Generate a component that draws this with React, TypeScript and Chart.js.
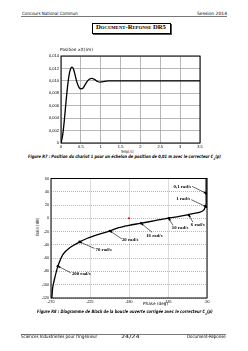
import React, { useEffect, useLayoutEffect, useRef } from "react";
import { Chart, registerables } from "chart.js";
Chart.register(...registerables);

// ---------- Figure R7 : step response ----------
const stepTime = [0, 0.04, 0.08, 0.12, 0.16, 0.2, 0.24, 0.28, 0.32, 0.36, 0.4, 0.45, 0.5, 0.55, 0.6, 0.66, 0.72, 0.78, 0.85, 0.92, 1.0, 1.1, 1.2, 3.5];
const stepPos = [0, 0.0012, 0.0034, 0.0062, 0.0088, 0.0108, 0.0119, 0.0122, 0.0118, 0.0108, 0.0098, 0.009, 0.0087, 0.0088, 0.0093, 0.0099, 0.0103, 0.0104, 0.0102, 0.0099, 0.0098, 0.0099, 0.01, 0.01];
const timeTicks = [0, 0.5, 1, 1.5, 2, 2.5, 3, 3.5];
const posTicks = [0, 0.002, 0.004, 0.006, 0.008, 0.01, 0.012, 0.014];
const timeTickLabels = ["0", "0,5", "1", "1,5", "2", "2,5", "3", "3,5"];
const posTickLabels = ["0", "0,002", "0,004", "0,006", "0,008", "0,010", "0,012", "0,014"];

// ---------- Figure R8 : Black-Nichols ----------
const curvePhase = [-91, -91, -91, -91, -92, -94, -98, -110, -122, -136, -150, -167, -180, -192, -202, -217, -228, -237, -248, -256, -262, -265.5, -268, -269];
const curveGain = [60, 40, 30, 22, 17, 12, 9.5, 6, 3, 0, -3.5, -7.5, -10.5, -14, -19, -25, -30, -35.5, -44, -54, -72, -89, -104, -120];
const freqLabels = ["0,1 rad/s", "1 rad/s", "6 rad/s", "10 rad/s", "16 rad/s", "20 rad/s", "70 rad/s", "200 rad/s"];
const freqPhase = [-91, -91, -111, -134, -166, -202, -237, -262];
const freqGain = [37.6, 17.6, 5, 0, -7.5, -19, -35.5, -72];
const criticalPhase = [-180];
const criticalGain = [0];
const phaseTicks = [-270, -225, -180, -135, -90];
const gainTicks = [60, 40, 20, 0, -20, -40, -60, -80, -100, -120];

// label placement relative to each marked point (pixels)
const freqNotes = [
  { align: "right", tx: -15, ty: -7, ax: -14, ay: -7 },
  { align: "right", tx: -16, ty: -8, ax: -15, ay: -7 },
  { align: "left", tx: 2, ty: 10, ax: 4, ay: 7 },
  { align: "left", tx: 3, ty: 9.5, ax: 4, ay: 7 },
  { align: "left", tx: 5, ty: 12.5, ax: 11, ay: 9 },
  { align: "left", tx: 12, ty: 9, ax: 12, ay: 8 },
  { align: "left", tx: 16, ty: 7.5, ax: 15, ay: 6.5 },
  { align: "left", tx: 14, ty: 7.7, ax: 13, ay: 6.7 },
];

const tickFont = { family: "'Liberation Sans', Arial, sans-serif", size: 4 };

const framePlugin = {
  id: "frame",
  afterDraw(chart: any) {
    const { ctx, chartArea: a } = chart;
    ctx.save();
    ctx.strokeStyle = "#000";
    ctx.lineWidth = 1;
    ctx.strokeRect(a.left, a.top, a.right - a.left, a.bottom - a.top);
    ctx.restore();
  },
};

const notePlugin = {
  id: "notes",
  afterDatasetsDraw(chart: any) {
    const { ctx } = chart;
    const x = chart.scales.x;
    const y = chart.scales.y;
    ctx.save();
    ctx.font = "bold 4.8px 'Liberation Serif', serif";
    ctx.fillStyle = "#000";
    ctx.strokeStyle = "#000";
    ctx.lineWidth = 0.6;
    freqLabels.forEach((lab, i) => {
      const px = x.getPixelForValue(freqPhase[i]);
      const py = y.getPixelForValue(freqGain[i]);
      const n = freqNotes[i];
      ctx.textAlign = n.align;
      ctx.textBaseline = "middle";
      ctx.fillText(lab, px + n.tx, py + n.ty);
      const sx = px + n.ax;
      const sy = py + n.ay;
      ctx.beginPath();
      ctx.moveTo(sx, sy);
      ctx.lineTo(px, py);
      ctx.stroke();
      const ang = Math.atan2(py - sy, px - sx);
      const L = 2.6;
      ctx.beginPath();
      ctx.moveTo(px, py);
      ctx.lineTo(px - L * Math.cos(ang - 0.45), py - L * Math.sin(ang - 0.45));
      ctx.lineTo(px - L * Math.cos(ang + 0.45), py - L * Math.sin(ang + 0.45));
      ctx.closePath();
      ctx.fill();
    });
    ctx.restore();
  },
};

function StepChart() {
  const ref = useRef<HTMLCanvasElement>(null);
  useEffect(() => {
    const chart = new Chart(ref.current!, {
      type: "scatter",
      data: {
        datasets: [
          {
            data: stepTime.map((t, i) => ({ x: t, y: stepPos[i] })),
            showLine: true,
            borderColor: "#000",
            borderWidth: 1.3,
            pointRadius: 0,
            cubicInterpolationMode: "monotone",
          } as any,
        ],
      },
      options: {
        animation: false,
        responsive: false,
        maintainAspectRatio: false,
        layout: { padding: { top: 8, right: 8, left: 0, bottom: 0 } },
        plugins: { legend: { display: false }, tooltip: { enabled: false } },
        scales: {
          x: {
            type: "linear",
            min: 0,
            max: 3.5,
            afterBuildTicks: (ax: any) => { ax.ticks = timeTicks.map((v) => ({ value: v })); },
            afterFit: (ax: any) => { ax.height = 5; },
            ticks: { font: tickFont, color: "#000", padding: 1, autoSkip: false, maxRotation: 0,
              callback: (v: any) => timeTickLabels[timeTicks.indexOf(Number(v))] ?? "" },
            grid: { color: "#9a9a9a", lineWidth: 0.7, drawTicks: false },
            border: { display: false },
          },
          y: {
            type: "linear",
            min: 0,
            max: 0.014,
            afterBuildTicks: (ax: any) => { ax.ticks = posTicks.map((v) => ({ value: v })); },
            afterFit: (ax: any) => { ax.width = 21; },
            ticks: { font: tickFont, color: "#000", padding: 2, autoSkip: false,
              callback: (v: any) => {
                const k = posTicks.findIndex((p) => Math.abs(p - Number(v)) < 1e-9);
                return k >= 0 ? posTickLabels[k] : "";
              } },
            grid: { color: "#9a9a9a", lineWidth: 0.7, drawTicks: false },
            border: { display: false },
          },
        },
      },
      plugins: [framePlugin],
    });
    return () => chart.destroy();
  }, []);
  return <canvas ref={ref} width={168} height={100} style={{ position: "absolute", left: 40, top: 48, width: 168, height: 100 }} />;
}

function BlackChart() {
  const ref = useRef<HTMLCanvasElement>(null);
  useEffect(() => {
    const chart = new Chart(ref.current!, {
      type: "scatter",
      data: {
        datasets: [
          {
            data: curvePhase.map((p, i) => ({ x: p, y: curveGain[i] })),
            showLine: true,
            borderColor: "#000",
            borderWidth: 1.3,
            pointRadius: 0,
            tension: 0.3,
          } as any,
          {
            data: freqPhase.map((p, i) => ({ x: p, y: freqGain[i] })),
            showLine: false,
            pointRadius: 1.3,
            backgroundColor: "#000",
            borderColor: "#000",
            borderWidth: 0,
          },
          {
            data: criticalPhase.map((p, i) => ({ x: p, y: criticalGain[i] })),
            showLine: false,
            pointRadius: 1,
            backgroundColor: "#e00000",
            borderColor: "#e00000",
            borderWidth: 0,
          },
        ],
      },
      options: {
        animation: false,
        responsive: false,
        maintainAspectRatio: false,
        layout: { padding: { top: 8.5, right: 8, left: 0, bottom: 0 } },
        plugins: { legend: { display: false }, tooltip: { enabled: false } },
        scales: {
          x: {
            type: "linear",
            min: -270,
            max: -90,
            afterBuildTicks: (ax: any) => { ax.ticks = phaseTicks.map((v) => ({ value: v })); },
            afterFit: (ax: any) => { ax.height = 9; },
            ticks: { font: { ...tickFont, size: 3.6 }, color: "#000", padding: 1.5, autoSkip: false, maxRotation: 0 },
            grid: { color: "#8a8a8a", lineWidth: 0.6, drawTicks: false },
            border: { display: false, dash: [1, 1] },
          },
          y: {
            type: "linear",
            min: -120,
            max: 60,
            afterBuildTicks: (ax: any) => { ax.ticks = gainTicks.map((v) => ({ value: v })); },
            afterFit: (ax: any) => { ax.width = 21; },
            ticks: { font: { ...tickFont, size: 3.6 }, color: "#000", padding: 2, autoSkip: false },
            grid: { color: "#8a8a8a", lineWidth: 0.6, drawTicks: false },
            border: { display: false, dash: [1, 1] },
          },
        },
      },
      plugins: [framePlugin, notePlugin],
    });
    return () => chart.destroy();
  }, []);
  return <canvas ref={ref} width={185} height={137} style={{ position: "absolute", left: 30, top: 170, width: 185, height: 137 }} />;
}

const sans = "'Liberation Sans Narrow', 'Arial Narrow', 'DejaVu Sans Condensed', sans-serif";

// text fitted to a given width (x = left edge, or right edge when right is set)
function T(props: { x: number; y: number; w: number; size: number; children: any; right?: boolean; style?: any }) {
  const ref = useRef<HTMLDivElement>(null);
  const inner = useRef<HTMLSpanElement>(null);
  useLayoutEffect(() => {
    const fit = () => {
      const el = ref.current;
      const sp = inner.current;
      if (!el || !sp) return;
      const nat = sp.offsetWidth;
      if (nat > 0) el.style.transform = `scaleX(${props.w / nat})`;
    };
    fit();
    (document as any).fonts?.ready?.then(fit);
    const t = setTimeout(fit, 50);
    return () => clearTimeout(t);
  }, []);
  const s: any = {
    position: "absolute",
    left: props.right ? props.x - props.w : props.x,
    top: props.y - props.size / 2,
    width: 600,
    fontSize: props.size,
    lineHeight: 1,
    whiteSpace: "nowrap",
    fontFamily: sans,
    color: "#000",
    transformOrigin: "0 50%",
    ...props.style,
  };
  return (
    <div ref={ref} style={s}>
      <span ref={inner} style={{ display: "inline-block" }}>{props.children}</span>
    </div>
  );
}

export default function App() {
  return (
    <div style={{ position: "absolute", left: 0, top: 0, width: 248, height: 351, background: "#fff", overflow: "hidden" }}>
      <T x={22} y={14.3} w={56} size={4.5}>Concours National Commun</T>
      <T x={227} y={14.3} w={30} size={4.5} right>Session 2014</T>
      <div style={{ position: "absolute", left: 21, top: 16, width: 206, height: 0, borderTop: "1px solid #777" }} />
      <div style={{ position: "absolute", left: 92, top: 22.5, width: 77, height: 9, border: "1px solid #000", boxShadow: "1px 1px 0 #555" }} />
      <T x={96} y={27.8} w={70} size={7} style={{ fontFamily: "'Liberation Serif', serif", fontWeight: "bold", fontVariant: "small-caps" }}>Document-Reponse DR5</T>

      <StepChart />
      <T x={60} y={50} w={33} size={4.3}>Position x(t)(m)</T>
      <T x={121} y={151.7} w={13} size={4.3}>Temps (s)</T>
      <T x={28} y={157.7} w={193} size={4.5} style={{ fontStyle: "italic", fontWeight: "bold" }}>
        Figure R7 : Position du chariot 1 pour un échelon de position de 0,01 m avec le correcteur C<sub style={{ fontSize: 3 }}>1</sub>(p)
      </T>

      <BlackChart />
      <div style={{ position: "absolute", left: 38, top: 227, transform: "translate(-50%,-50%) rotate(-90deg)", fontSize: 4.3, lineHeight: 1, whiteSpace: "nowrap", fontFamily: sans }}>Gain (dB)</div>
      <T x={143} y={304} w={25} size={4.3}>Phase (deg)</T>
      <T x={37} y={312.7} w={176} size={4.5} style={{ fontStyle: "italic", fontWeight: "bold" }}>
        Figure R8 : Diagramme de Black de la boucle ouverte corrigée avec le correcteur C<sub style={{ fontSize: 3 }}>1</sub>(p)
      </T>

      <div style={{ position: "absolute", left: 21, top: 333.5, width: 205, height: 0, borderTop: "1px solid #777" }} />
      <T x={21} y={337} w={76} size={4.5}>Sciences Industrielles pour l'Ingénieur</T>
      <T x={121} y={337} w={19} size={4.5}>24/24</T>
      <T x={226} y={337} w={39} size={4.5} right>Document-Réponse</T>
    </div>
  );
}
